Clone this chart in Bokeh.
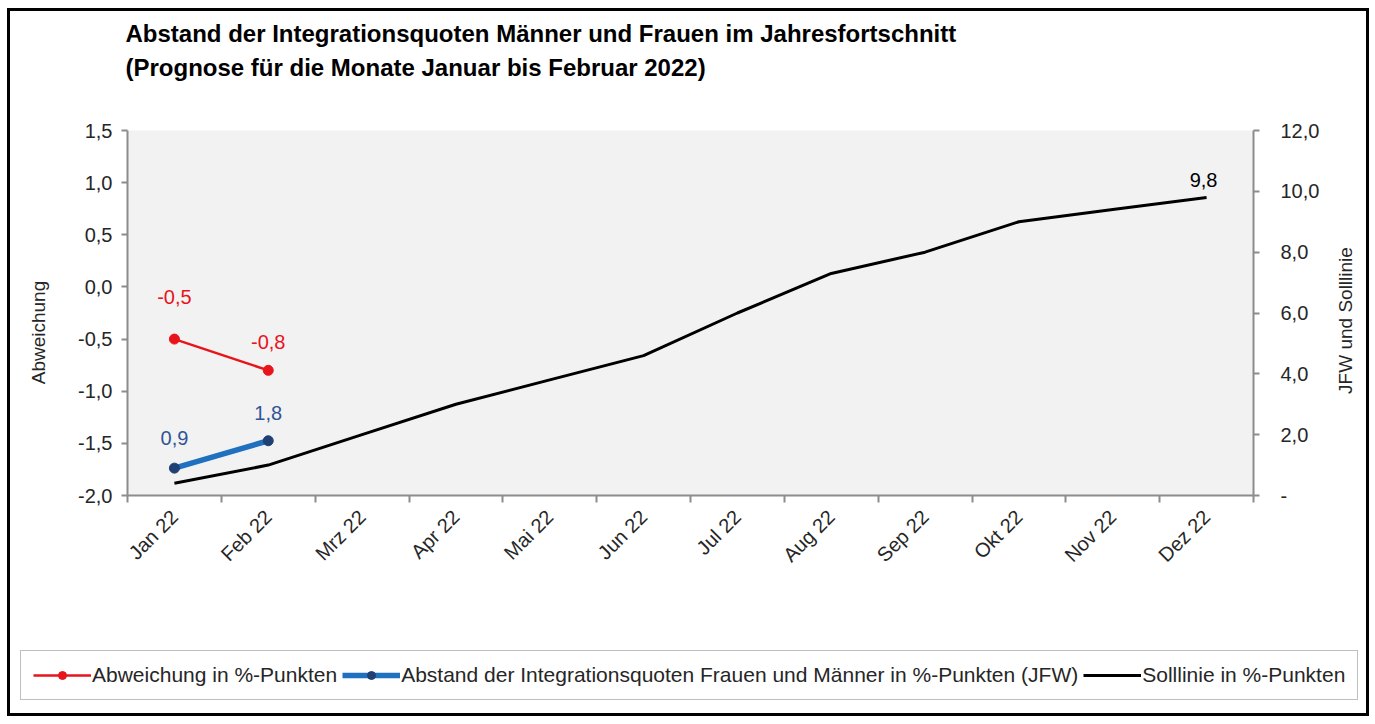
import math
from bokeh.plotting import figure
from bokeh.layouts import column, row
from bokeh.models import (Range1d, LinearAxis, FixedTicker, Legend, LegendItem,
                          Title, Label, ColumnDataSource)
from bokeh.embed import file_html
from bokeh.resources import INLINE
from bokeh.core.properties import value

# ---------------- data ----------------
months = ["Jan 22", "Feb 22", "Mrz 22", "Apr 22", "Mai 22", "Jun 22",
          "Jul 22", "Aug 22", "Sep 22", "Okt 22", "Nov 22", "Dez 22"]
abweichung = [-0.5, -0.8]                      # left axis, Jan-Feb
jfw = [0.9, 1.8]                               # right axis, Jan-Feb
solllinie = [0.4, 1.0, 2.0, 3.0, 3.8, 4.6, 6.0, 7.3, 8.0, 9.0, 9.4, 9.8]  # right axis
left_ticks = [-2.0, -1.5, -1.0, -0.5, 0.0, 0.5, 1.0, 1.5]
left_labels = ["-2,0", "-1,5", "-1,0", "-0,5", "0,0", "0,5", "1,0", "1,5"]
right_ticks = [0, 2, 4, 6, 8, 10, 12]
right_labels = ["-", "2,0", "4,0", "6,0", "8,0", "10,0", "12,0"]
title_lines = ["Abstand der Integrationsquoten Männer und Frauen im Jahresfortschnitt",
               "(Prognose für die Monate Januar bis Februar 2022)"]
series_names = ["Abweichung in %-Punkten",
                "Abstand der Integrationsquoten Frauen und Männer in %-Punkten (JFW)",
                "Solllinie in %-Punkten"]
left_axis_title = "Abweichung"
right_axis_title = "JFW und Solllinie"


def de(v):
    return f"{v:.1f}".replace(".", ",")


# ---------------- styles ----------------
FONT = "Liberation Sans"
RED = "#e8141c"
BLUE = "#1f70be"
NAVY = "#203f73"
BLUE_TXT = "#2f5597"
AXIS_GRAY = "#8c8c8c"
TXT = "#262626"

W = 1356
H_MAIN, H_LEG = 600, 102
SW_L, SW_R = 45, 40
WP = W - SW_L - SW_R
ML, MR, MT, MB = 72, 73, 119, 116


def strip(width, height):
    f = figure(width=width, height=height, output_backend="svg", toolbar_location=None,
               title=None, x_axis_type=None, y_axis_type=None, min_border=0,
               x_range=Range1d(0, 1), y_range=Range1d(0, 1))
    f.outline_line_color = None
    f.background_fill_color = "white"
    f.border_fill_color = "white"
    return f


p = figure(width=WP, height=H_MAIN, output_backend="svg", toolbar_location=None,
           title=None,
           x_range=Range1d(-0.5, len(months) - 0.5),
           y_range=Range1d(left_ticks[0], left_ticks[-1]),
           min_border_left=ML, min_border_right=MR,
           min_border_top=MT, min_border_bottom=MB)
p.extra_y_ranges = {"right": Range1d(right_ticks[0], right_ticks[-1])}
p.background_fill_color = "#f2f2f2"
p.border_fill_color = "white"
p.outline_line_color = None
p.xgrid.visible = False
p.ygrid.visible = False

# titles: spacer next to the plot, then line 2, then line 1 on top
p.add_layout(Title(text=" ", text_font_size="2px", standoff=44), "above")
p.add_layout(Title(text=title_lines[1], text_font=FONT, text_font_style="bold",
                   text_font_size="24px", text_color="black", align="left",
                   offset=-2, standoff=4), "above")
p.add_layout(Title(text=title_lines[0], text_font=FONT, text_font_style="bold",
                   text_font_size="24px", text_color="black", align="left",
                   offset=-2, standoff=5), "above")

# x axis (category style: ticks between categories)
xi = list(range(len(months)))
xax = p.xaxis[0]
xax.ticker = FixedTicker(ticks=xi, minor_ticks=[i - 0.5 for i in range(len(months) + 1)])
xax.major_label_overrides = {i: m for i, m in enumerate(months)}
xax.major_tick_out = 0
xax.major_tick_in = 0
xax.minor_tick_out = 7
xax.minor_tick_in = 0
xax.minor_tick_line_color = AXIS_GRAY
xax.minor_tick_line_width = 2
xax.major_label_orientation = math.pi / 4
xax.major_label_standoff = 11

# left axis
yax = p.yaxis[0]
yax.ticker = FixedTicker(ticks=left_ticks)
yax.major_label_overrides = dict(zip(left_ticks, left_labels))
yax.major_label_standoff = 9

# right axis
rax = LinearAxis(y_range_name="right", ticker=FixedTicker(ticks=right_ticks),
                 major_label_overrides=dict(zip(right_ticks, right_labels)))
rax.major_label_standoff = 21
p.add_layout(rax, "right")

for ax in (xax, yax, rax):
    ax.axis_line_color = AXIS_GRAY
    ax.axis_line_width = 2
    ax.major_label_text_font = FONT
    ax.major_label_text_font_size = "20px"
    ax.major_label_text_color = TXT
for ax in (yax, rax):
    ax.major_tick_line_color = AXIS_GRAY
    ax.major_tick_line_width = 2
    ax.major_tick_out = 6
    ax.major_tick_in = 0
    ax.minor_tick_line_color = None

# ---------------- glyphs ----------------
soll_style = dict(line_color="black", line_width=3)
blue_style = dict(line_color=BLUE, line_width=5.5)
blue_pt = dict(size=10, fill_color=NAVY, line_color=NAVY)
red_style = dict(line_color=RED, line_width=2.5)
red_pt = dict(size=10, fill_color=RED, line_color=RED)

p.line(xi, solllinie, y_range_name="right", **soll_style)
p.line(xi[:len(jfw)], jfw, y_range_name="right", **blue_style)
p.scatter(xi[:len(jfw)], jfw, y_range_name="right", **blue_pt)
p.line(xi[:len(abweichung)], abweichung, **red_style)
p.scatter(xi[:len(abweichung)], abweichung, **red_pt)

# data labels
lab_kw = dict(text_font=value(FONT), text_font_size="20px",
              text_align="center", text_baseline="middle")
red_dy = [-42, -28]
red_src = ColumnDataSource(dict(x=xi[:len(abweichung)], y=abweichung,
                                t=[de(v) for v in abweichung], dy=red_dy))
p.text(x="x", y="y", text="t", y_offset="dy", source=red_src, text_color=RED, **lab_kw)
blue_dy = [-30, -28]
blue_src = ColumnDataSource(dict(x=xi[:len(jfw)], y=jfw,
                                 t=[de(v) for v in jfw], dy=blue_dy))
p.text(x="x", y="y", text="t", y_offset="dy", source=blue_src, y_range_name="right",
       text_color=BLUE_TXT, **lab_kw)
soll_src = ColumnDataSource(dict(x=[xi[-1]], y=[solllinie[-1]], t=[de(solllinie[-1])]))
p.text(x="x", y="y", text="t", y_offset=-17, x_offset=-3, source=soll_src,
       y_range_name="right", text_color="black", **lab_kw)

# ---------------- axis titles in narrow side strips ----------------
left_strip = strip(SW_L, H_MAIN)
left_strip.add_layout(Label(x=28, y=279, x_units="screen", y_units="screen",
                            angle=math.pi / 2, text=left_axis_title, text_font=FONT,
                            text_font_size="19px", text_color=TXT,
                            text_align="center", text_baseline="middle"))
right_strip = strip(SW_R, H_MAIN)
right_strip.add_layout(Label(x=19, y=291, x_units="screen", y_units="screen",
                             angle=math.pi / 2, text=right_axis_title, text_font=FONT,
                             text_font_size="19px", text_color=TXT,
                             text_align="center", text_baseline="middle"))

# ---------------- legend (own strip below the chart) ----------------
lf = strip(W, H_LEG)
nan = float("nan")
lr_l = lf.line([nan], [nan], **red_style)
lr_p = lf.scatter([nan], [nan], **red_pt)
lb_l = lf.line([nan], [nan], **blue_style)
lb_p = lf.scatter([nan], [nan], **blue_pt)
ls_l = lf.line([nan], [nan], **soll_style)
legend = Legend(items=[LegendItem(label=series_names[0], renderers=[lr_l, lr_p]),
                       LegendItem(label=series_names[1], renderers=[lb_l, lb_p]),
                       LegendItem(label=series_names[2], renderers=[ls_l])],
                orientation="horizontal", location=(10, 13))
legend.label_text_font = FONT
legend.label_text_font_size = "21px"
legend.label_text_color = TXT
legend.glyph_width = 58
legend.glyph_height = 20
legend.label_height = 20
legend.label_standoff = 1
legend.spacing = 5
legend.padding = 12
legend.margin = 0
legend.border_line_color = "#808080"
legend.border_line_width = 1.5
legend.background_fill_color = "white"
legend.background_fill_alpha = 1
lf.add_layout(legend)

for fig in (p, lf, left_strip, right_strip):
    if "frame_align" in fig.properties():
        fig.frame_align = False

layout = column(row(left_strip, p, right_strip, spacing=0), lf,
                margin=(8, 0, 0, 7), spacing=0,
                styles={"border": "3px solid black", "background-color": "white"})

open("out.html", "w").write(file_html(layout, INLINE))
